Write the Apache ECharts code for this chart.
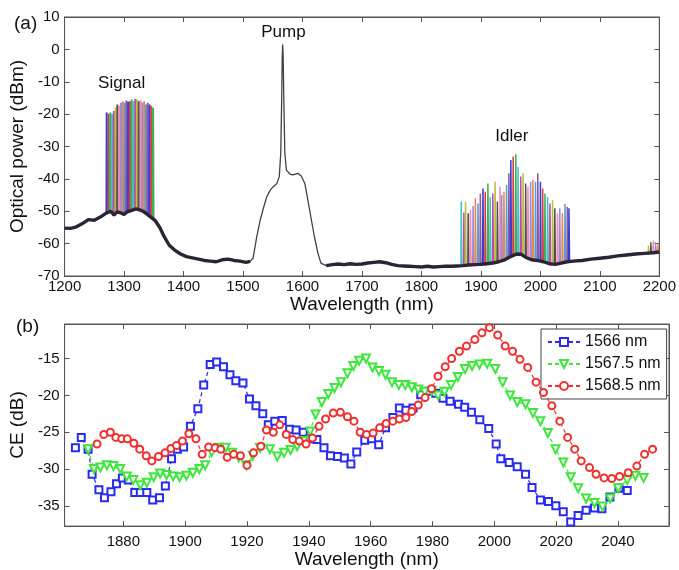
<!DOCTYPE html>
<html><head><meta charset="utf-8">
<script src="https://cdn.jsdelivr.net/npm/echarts@6/dist/echarts.min.js"></script>
<style>html,body{margin:0;padding:0;background:#fff}#c{width:679px;height:570px}</style>
</head><body><div id="c"></div>
<script>
// ---------- (a) spectrum: background trace ----------
const baseWl = [1200,1210,1220,1230,1240,1250,1260,1270,1278,1283,1288,1296,1300,1305,1312,1320,1326,1332,1338,1345,1352,1360,1368,1376,1385,1395,1405,1415,1425,1435,1445,1455,1465,1475,1485,1495,1505,1512,1517,1523,1529,1535,1540,1546,1551,1557,1561,1563.5,1565,1566,1566.7,1567.5,1568.7,1570.3,1573,1579,1584,1592,1598,1604,1609,1615,1620,1626,1631,1640,1650,1660,1670,1680,1690,1700,1710,1720,1730,1740,1750,1760,1770,1780,1790,1800,1810,1820,1830,1840,1850,1860,1870,1880,1890,1900,1910,1920,1930,1940,1950,1960,1968,1975,1985,1995,2005,2015,2025,2035,2045,2055,2070,2085,2100,2115,2130,2145,2160,2175,2190,2200];
const baseDb = [-55.2,-55.3,-54.8,-53.8,-52.6,-52.8,-51.8,-50.6,-50.0,-51.2,-50.2,-50.6,-51.0,-50.2,-49.8,-49.3,-49.6,-50.0,-50.8,-51.8,-52.8,-55.0,-58.0,-60.5,-62.0,-63.2,-64.0,-64.4,-64.8,-65.2,-65.4,-65.6,-65.0,-64.8,-65.2,-65.4,-65.8,-65.5,-64.5,-58.0,-52.7,-48.6,-45.5,-43.4,-42.4,-41.4,-39.3,-32.0,-16.0,-2.0,1.5,-2.0,-16.0,-32.0,-37.3,-38.5,-38.8,-38.3,-39.1,-41.4,-46.5,-52.7,-57.8,-63.0,-66.0,-66.8,-66.5,-66.3,-66.5,-66.2,-66.4,-66.3,-66.0,-65.8,-65.6,-65.9,-66.4,-66.8,-66.9,-67.0,-67.1,-67.2,-67.0,-67.2,-67.1,-67.0,-67.0,-66.9,-66.8,-66.6,-66.5,-66.4,-66.2,-66.0,-65.6,-65.0,-64.0,-63.2,-63.3,-64.2,-65.0,-65.2,-65.6,-66.2,-66.4,-66.0,-65.6,-65.4,-65.2,-64.8,-64.5,-64.2,-63.8,-63.5,-63.2,-63.0,-62.8,-62.6];
// wavelength span of the clean (noise-free) pump region
const pumpSpan = [1516, 1632];

// signal peaks
const sigWl = [1271,1274,1277,1280,1283,1286,1289,1292,1295,1298,1301,1304,1307,1310,1313,1316,1319,1322,1325,1328,1331,1334,1337,1340,1343,1346,1349];
const sigPk = [-19.5,-20,-19.5,-20,-19,-18,-17,-17.5,-16.5,-16,-16.5,-15.8,-16.2,-16,-15.5,-16,-15.3,-15.5,-16,-15.8,-16.5,-16,-17,-16.5,-17,-17.5,-18];
const sigFloor = [-50.6,-50.3,-50,-50,-51.2,-50.6,-50.2,-50.4,-50.6,-50.8,-51,-50.6,-50.2,-50,-49.9,-49.7,-49.4,-49.3,-49.5,-49.6,-49.8,-50,-50.4,-50.8,-51.3,-51.8,-52.3];

// idler peaks
const idlWl = [1867.2,1871.6,1874.4,1878.9,1882.7,1887.1,1891,1895.4,1899.3,1903.7,1907.5,1912,1915.8,1920.3,1924.1,1928,1932.4,1935.2,1939,1943.4,1947.3,1950.6,1954.5,1958.9,1962.8,1967.2,1971.1,1975.5,1979.4,1983.8,1987.6,1992,1995.9,2000.3,2004.1,2008,2012.4,2016.3,2020.7,2024.5,2028.9,2032.8,2037.2,2041.6,2045.5,2048.3];
const idlPk = [-47,-50.4,-47,-50.6,-49.6,-48.4,-46,-47.6,-44.5,-43,-44,-41.4,-45.7,-44.5,-40.9,-47,-42.4,-45,-44,-41.9,-38.3,-34.2,-33.1,-32.4,-36.3,-39.3,-38.3,-41.4,-42.4,-40.9,-40.3,-40.9,-38.3,-40.9,-43,-44.5,-45.6,-47.6,-46.6,-49.1,-50.6,-49.1,-50.6,-47.8,-48.6,-49.1];
const idlFloor = [-66.8,-66.8,-66.7,-66.6,-66.6,-66.5,-66.5,-66.4,-66.4,-66.3,-66.2,-66.2,-66.1,-66.0,-65.9,-65.7,-65.6,-65.4,-65.1,-64.8,-64.4,-64.0,-63.6,-63.3,-63.2,-63.3,-63.6,-64.1,-64.5,-64.9,-65.0,-65.1,-65.2,-65.4,-65.6,-65.8,-66.0,-66.1,-66.3,-66.4,-66.3,-66.1,-65.9,-65.7,-65.6,-65.5];

// small features at the long-wavelength edge
const edgeWl = [2182,2186,2190,2194,2198];
const edgePk = [-60.5,-59.5,-59,-59.5,-60];
const edgeFloor = [-62.9,-62.8,-62.8,-62.7,-62.6];

// annotations
const annText = ['Signal','Pump','Idler'];
const annWl = [1296,1568,1952];
const annDb = [-10.4,5.2,-27];

// ---------- (b) conversion efficiency ----------
const seriesNames = ['1566 nm','1567.5 nm','1568.5 nm'];
const blueWl = [1864.5,1866.4,1868.6,1869.9,1872.1,1873.9,1876.0,1877.8,1879.7,1881.6,1883.7,1885.5,1887.6,1889.5,1891.7,1893.6,1895.6,1897.5,1899.5,1901.7,1904.1,1906.0,1908.1,1910.2,1912.4,1914.5,1916.4,1918.7,1920.8,1922.9,1925.1,1926.9,1929.0,1931.4,1933.8,1935.9,1938.2,1940.4,1942.6,1944.9,1947.0,1949.3,1951.5,1953.6,1955.5,1958.1,1960.3,1962.6,1964.8,1967.2,1969.3,1971.4,1973.7,1976.2,1978.8,1981.0,1983.4,1985.7,1988.4,1990.4,1992.6,1995.3,1998.2,2000.6,2002.1,2004.8,2007.4,2010.1,2012.2,2014.9,2017.5,2019.9,2022.3,2024.7,2027.1,2029.7,2032.4,2034.8,2037.4,2040.3,2043.0];
const blueCe = [-27.1,-25.7,-27.3,-30.7,-32.8,-33.9,-33.1,-32.0,-31.2,-31.5,-33.2,-33.2,-33.2,-34.2,-33.9,-32.3,-28.6,-27.3,-27.0,-24.2,-21.8,-18.6,-15.8,-15.45,-16.1,-17.2,-18.0,-18.3,-20.5,-21.4,-22.5,-24.0,-23.5,-23.4,-24.6,-24.7,-25.0,-25.9,-26.0,-27.1,-28.2,-28.3,-28.5,-29.3,-27.7,-26.1,-25.9,-26.7,-24.4,-23.0,-21.7,-22.0,-21.7,-19.9,-19.45,-19.7,-20.4,-20.8,-21.2,-21.6,-22.3,-23.3,-24.5,-26.6,-28.6,-29.1,-29.7,-30.7,-32.5,-34.2,-34.4,-35.0,-35.8,-37.2,-36.3,-35.6,-35.3,-35.4,-33.8,-32.6,-32.9];
const greenWl = [1868.6,1870.5,1872.6,1874.7,1876.8,1879.0,1881.1,1883.2,1885.5,1887.6,1889.8,1891.9,1894.0,1896.1,1898.2,1900.4,1902.5,1904.6,1906.5,1908.6,1910.8,1913.1,1915.2,1917.3,1919.8,1921.9,1924.2,1927.4,1929.8,1932.0,1934.1,1936.2,1938.3,1940.4,1942.2,1944.2,1946.3,1948.3,1950.4,1952.5,1954.4,1956.3,1958.5,1960.6,1962.7,1964.8,1966.9,1969.1,1971.2,1973.3,1975.4,1977.5,1979.7,1981.8,1983.9,1986.0,1988.2,1990.5,1992.8,1995.2,1997.7,2000.3,2002.7,2005.1,2007.4,2010.1,2012.5,2014.9,2017.3,2019.8,2022.3,2024.7,2027.1,2029.7,2032.4,2035.0,2037.5,2040.1,2043.0,2045.6,2048.3];
const greenCe = [-27.3,-30.0,-29.8,-29.5,-29.6,-30.0,-31.0,-31.5,-32.2,-31.85,-31.1,-30.6,-30.8,-31.0,-31.1,-30.9,-30.5,-30.0,-29.5,-27.7,-27.1,-27.1,-27.8,-28.4,-29.5,-28.2,-27.1,-27.3,-28.3,-27.8,-27.4,-26.9,-26.2,-24.9,-22.6,-20.9,-19.8,-19.0,-18.2,-17.0,-16.0,-15.3,-15.0,-16.2,-16.7,-17.2,-18.2,-18.6,-18.6,-18.9,-19.2,-19.5,-19.4,-20.0,-19.5,-18.6,-17.5,-16.4,-16.0,-15.8,-15.7,-16.4,-18.2,-20.0,-20.9,-21.2,-22.4,-23.5,-25.1,-27.3,-29.1,-31.1,-32.6,-34.0,-34.6,-35.1,-34.0,-32.6,-31.5,-30.9,-31.2];
const redWl = [1871.5,1873.7,1875.8,1877.6,1879.5,1881.3,1883.4,1885.3,1887.4,1889.2,1891.4,1893.5,1895.4,1897.2,1899.1,1901.2,1903.5,1905.5,1907.6,1909.7,1911.5,1913.6,1915.7,1917.9,1920.0,1922.1,1924.5,1926.3,1928.5,1930.6,1932.7,1934.8,1936.9,1939.1,1941.2,1943.3,1945.4,1947.9,1950.2,1952.5,1954.6,1956.6,1958.7,1960.8,1962.9,1965.0,1967.2,1969.3,1971.4,1973.3,1975.4,1977.6,1979.7,1981.8,1984.1,1986.2,1988.7,1991.0,1993.7,1996.0,1998.4,2001.1,2003.5,2005.9,2008.3,2010.8,2013.5,2015.9,2018.6,2021.2,2023.7,2026.0,2028.1,2030.8,2032.9,2035.5,2038.0,2040.5,2043.3,2046.1,2048.6,2051.2];
const redCe = [-26.6,-25.3,-25.0,-25.7,-25.9,-25.9,-26.5,-27.3,-28.2,-28.9,-28.3,-27.8,-27.2,-26.8,-26.2,-25.2,-25.9,-28.0,-27.0,-27.1,-27.3,-28.4,-28.0,-28.2,-29.5,-27.8,-26.9,-24.7,-25.0,-24.0,-25.3,-26.0,-26.2,-26.6,-25.8,-24.2,-23.2,-22.4,-22.3,-22.9,-23.5,-25.0,-25.3,-25.1,-24.4,-23.8,-23.5,-23.2,-23.0,-22.2,-21.3,-20.3,-19.1,-17.4,-16.1,-15.0,-14.0,-13.3,-12.4,-11.5,-10.8,-11.8,-13.3,-14.0,-15.1,-16.2,-18.2,-19.6,-21.4,-23.5,-25.7,-27.3,-28.9,-29.8,-30.7,-31.2,-31.3,-31.0,-30.5,-29.6,-28.0,-27.3];

// ---------- build chart ----------
const FONT = '"Liberation Sans", Arial, Helvetica, sans-serif';
const traceColors = ['#3b3bd6','#d64040','#3fae5a','#40c4c4','#c04aa8','#bdbd3c','#505050','#f08cb4','#9a8ad8','#e6884a','#5a9ad6','#8a5a9c'];
const axisCol = '#555';
const txtCol = '#111';

const zip = (a, b) => a.map((v, i) => [v, b[i]]);
const series = [];
function spikes(wl, pk, fl, half, offset, width) {
  wl.forEach((w, i) => {
    series.push({
      type: 'line', xAxisIndex: 0, yAxisIndex: 0, symbol: 'none', silent: true, z: 2,
      data: [[w - half, fl[i]], [w - half * 0.3, pk[i]], [w + half * 0.3, pk[i]], [w + half, fl[i]]],
      lineStyle: { width: width, color: traceColors[(i + offset) % traceColors.length] }
    });
  });
}
spikes(sigWl, sigPk, sigFloor, 0.6, 0, 2.0);
spikes(idlWl, idlPk, idlFloor, 0.8, 3, 1.5);
spikes(edgeWl, edgePk, edgeFloor, 1.0, 5, 1.2);
// thin trace (visible alone in the pump region)
series.push({
  type: 'line', xAxisIndex: 0, yAxisIndex: 0, symbol: 'none', silent: true, z: 3,
  data: zip(baseWl, baseDb), lineStyle: { width: 1.3, color: '#444048' }
});
// noisy overlapped traces outside the pump region look like a thick band
const bandLeft = zip(baseWl, baseDb).filter(p => p[0] <= pumpSpan[0]);
const bandRight = zip(baseWl, baseDb).filter(p => p[0] >= pumpSpan[1]);
[bandLeft, bandRight].forEach(d => series.push({
  type: 'line', xAxisIndex: 0, yAxisIndex: 0, symbol: 'none', silent: true, z: 3,
  data: d, lineStyle: { width: 3.4, color: '#2c2436' }
}));
series.push({
  type: 'scatter', xAxisIndex: 0, yAxisIndex: 0, symbolSize: 1, silent: true, z: 5,
  itemStyle: { color: 'rgba(0,0,0,0)' },
  data: annText.map((t, i) => [annWl[i], annDb[i], t]),
  label: { show: true, position: 'top', distance: -9, formatter: p => p.data[2], fontFamily: FONT, fontSize: 17, color: '#111', opacity: 1, textBorderWidth: 0 }
});

const ceColors = ['#2b2bee', '#3ee63e', '#ee3030'];
const ceSymbols = ['emptyRect', 'emptyTriangle', 'emptyCircle'];
const ceRot = [0, 180, 0];
const ceData = [zip(blueWl, blueCe), zip(greenWl, greenCe), zip(redWl, redCe)];
seriesNames.forEach((n, k) => {
  series.push({
    name: n, type: 'line', xAxisIndex: 2, yAxisIndex: 2, data: ceData[k],
    symbol: ceSymbols[k], symbolRotate: ceRot[k], symbolSize: k === 1 ? 8 : 7,
    lineStyle: { type: [4, 3], width: 1.2, color: ceColors[k] },
    itemStyle: { color: ceColors[k], borderColor: ceColors[k], borderWidth: 1.3 },
    z: 3 + k, silent: true
  });
});

const plain = v => String(v);
const tickLbl = { fontFamily: FONT, fontSize: 15, color: txtCol, formatter: plain };
function mkX(grid, mn, mx, extra, primary, nameGap, lblMargin) {
  return Object.assign({
    gridIndex: grid, type: 'value', min: mn, max: mx, position: primary ? 'bottom' : 'top',
    axisLine: { show: true, onZero: false, lineStyle: { color: axisCol, width: 1 } },
    axisTick: { show: true, inside: true, length: 5, lineStyle: { color: axisCol } },
    axisLabel: primary ? Object.assign({ margin: lblMargin, showMinLabel: true, showMaxLabel: true }, tickLbl) : { show: false },
    splitLine: { show: false },
    name: primary ? 'Wavelength (nm)' : '', nameLocation: 'middle', nameGap: nameGap,
    nameTextStyle: { fontFamily: FONT, fontSize: 19, color: txtCol }
  }, extra);
}
function mkY(grid, mn, mx, extra, primary, name) {
  return Object.assign({
    gridIndex: grid, type: 'value', min: mn, max: mx, position: primary ? 'left' : 'right',
    axisLine: { show: true, onZero: false, lineStyle: { color: axisCol, width: 1 } },
    axisTick: { show: true, inside: true, length: 5, lineStyle: { color: axisCol } },
    axisLabel: primary ? Object.assign({ margin: 5 }, tickLbl) : { show: false },
    splitLine: { show: false },
    name: primary ? name : '', nameLocation: 'middle', nameGap: 31, nameRotate: 90,
    nameTextStyle: { fontFamily: FONT, fontSize: 19, color: txtCol }
  }, extra);
}

const option = {
  animation: false,
  backgroundColor: '#fff',
  title: [
    { text: '(a)', left: 9, top: 9, textStyle: { fontFamily: FONT, fontSize: 19, fontWeight: 'normal', color: txtCol } },
    { text: '(b)', left: 11, top: 312, textStyle: { fontFamily: FONT, fontSize: 19, fontWeight: 'normal', color: txtCol } }
  ],
  grid: [
    { left: 60, top: 17, width: 602, height: 259, show: true, borderColor: axisCol, borderWidth: 1, backgroundColor: 'transparent' },
    { left: 58, top: 324, width: 611, height: 206, show: true, borderColor: axisCol, borderWidth: 1, backgroundColor: 'transparent' }
  ],
  xAxis: [
    mkX(0, 1200, 2200, { interval: 100 }, true, 16, 3),
    mkX(0, 1200, 2200, { interval: 100 }, false, 0, 0),
    mkX(1, 1861, 2056.5, { splitNumber: 10, axisLabel: Object.assign({ margin: 8, showMinLabel: false, showMaxLabel: false }, tickLbl) }, true, 16, 8),
    mkX(1, 1861, 2056.5, { splitNumber: 10 }, false, 0, 0)
  ],
  yAxis: [
    mkY(0, -70, 10, { interval: 10 }, true, 'Optical power (dBm)'),
    mkY(0, -70, 10, { interval: 10 }, false, ''),
    mkY(1, -37.75, -10.3, { splitNumber: 6, axisLabel: Object.assign({ margin: 5, showMinLabel: false, showMaxLabel: false }, tickLbl) }, true, 'CE (dB)'),
    mkY(1, -37.75, -10.3, { splitNumber: 6 }, false, '')
  ],
  legend: {
    data: seriesNames, orient: 'vertical', left: 541, top: 329,
    backgroundColor: '#fff', borderColor: '#444', borderWidth: 1, padding: [5, 6, 5, 6],
    itemWidth: 32, itemHeight: 10, itemGap: 6,
    textStyle: { fontFamily: FONT, fontSize: 16, color: txtCol, lineHeight: 16 }
  },
  series: series
};
const chart = echarts.init(document.getElementById('c'), null, { renderer: 'canvas' });
chart.setOption(option);
</script>
</body></html>
